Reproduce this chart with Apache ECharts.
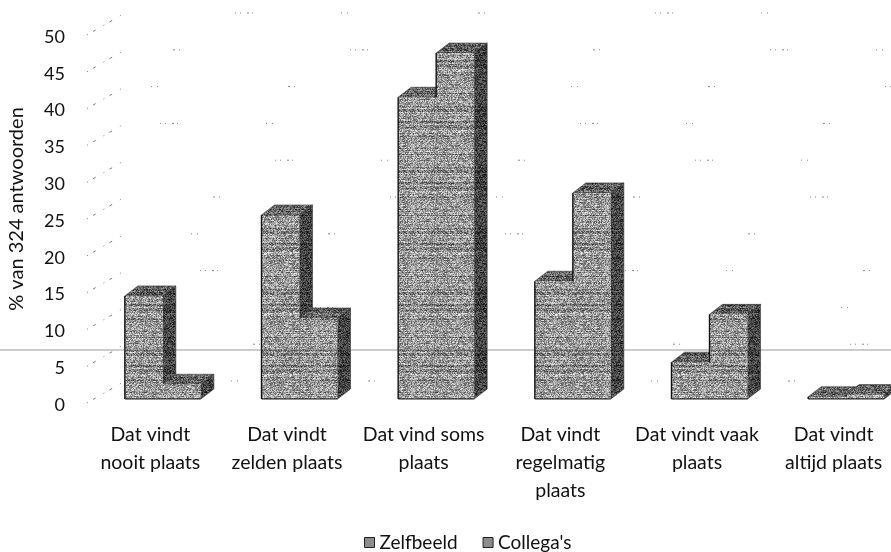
<!DOCTYPE html>
<html><head><meta charset="utf-8">
<style>html,body{margin:0;padding:0;background:#fff}#c{width:891px;height:552px}</style>
<script src="https://cdn.jsdelivr.net/npm/echarts@6/dist/echarts.min.js"></script>
</head><body><div id="c"></div>
<script>
const categories = ['Dat vindt\nnooit plaats','Dat vindt\nzelden plaats','Dat vind soms\nplaats','Dat vindt\nregelmatig\nplaats','Dat vindt vaak\nplaats','Dat vindt\naltijd plaats'];
const zelfbeeld = [14, 25, 41, 16, 5, 0.3];
const collegas = [2, 11, 47, 28, 11.5, 0.6];
const yTicks = [0,5,10,15,20,25,30,35,40,45,50];
const FONT = 'Lato';

function texture(base, spread, streakAmt){
  const c = document.createElement('canvas'); c.width = 97; c.height = 61;
  const x = c.getContext('2d');
  for (let j=0;j<61;j++) for (let i=0;i<97;i++){
    const h = Math.abs(Math.sin(i*12.9898+j*78.233)*43758.5453)%1;
    const streak = Math.abs(Math.sin(j*37.719)*9631.17)%1;
    let g = base + (h-0.5)*spread + (streak-0.5)*streakAmt;
    g = Math.max(0,Math.min(255,Math.round(g)));
    x.fillStyle = 'rgb('+g+','+g+','+g+')';
    x.fillRect(i,j,1,1);
  }
  return c;
}
const frontFill = {image: texture(150,130,70), repeat:'repeat'};
const topFill = {image: texture(100,110,50), repeat:'repeat'};
const sideFill = {image: texture(68,90,30), repeat:'repeat'};

function bar3d(seriesIndex){
  return function(params, api){
    const i = api.value(0), v = api.value(1);
    const c0 = api.coord([i,0]), c1 = api.coord([i,v]);
    const w = 38, dx = 13, dy = 10, shiftX = 12.5, shiftY = -6;
    const xl = c0[0]+shiftX-w+seriesIndex*w, xr = xl+w;
    const yb = c0[1]+shiftY, yt = c1[1]+shiftY;
    const thin = {stroke:'#333', lineWidth:0.6};
    // the left edge of the second bar shows only where it rises above the first
    const leftFrom = seriesIndex===0 ? yb : Math.min(yb, api.coord([i, zelfbeeld[params.dataIndex]])[1]+shiftY);
    const kids = [
      {type:'polygon', shape:{points:[[xr,yb],[xr+dx,yb-dy],[xr+dx,yt-dy],[xr,yt]]}, style:Object.assign({fill:sideFill},thin)},
      {type:'polygon', shape:{points:[[xl,yt],[xl+dx,yt-dy],[xr+dx,yt-dy],[xr,yt]]}, style:Object.assign({fill:topFill},thin)},
      {type:'rect', shape:{x:xl,y:yt,width:w,height:yb-yt}, style:{fill:frontFill}},
      {type:'line', shape:{x1:xl,y1:yb,x2:xr,y2:yb}, style:{stroke:'#222',lineWidth:1.2}}
    ];
    if (leftFrom > yt) kids.push({type:'line', shape:{x1:xl,y1:leftFrom,x2:xl,y2:yt}, style:{stroke:'#111',lineWidth:1.4}});
    return {type:'group', children:kids};
  };
}
function wallDiag(params, api){
  const p = api.coord([0, api.value(0)]);
  const x = params.coordSys.x+5, y = p[1]-2;
  return {type:'line', shape:{x1:x,y1:y,x2:x+38,y2:y-22}, style:{stroke:'#777',lineWidth:1,lineDash:[1,6,3,9]}};
}
function wallLine(params, api){
  const p = api.coord([0, api.value(0)]);
  const cs = params.coordSys;
  return {type:'line', shape:{x1:cs.x,y1:p[1],x2:cs.x+cs.width,y2:p[1]},
    style:{stroke:'#888',lineWidth:1,lineDash:[1,4,1,6,2,3,1,88,1,5,1,130,2,4,1,170],lineDashOffset:api.value(0)*23}};
}
const chart = echarts.init(document.getElementById('c'), null, {renderer:'canvas'});
chart.setOption({
  animation:false, backgroundColor:'#fff',
  legend:{top:528, left:359, itemWidth:10, itemHeight:10, itemGap:25,
    textStyle:{fontFamily:FONT,fontSize:19,color:'#111'},
    data:[{name:'Zelfbeeld',icon:'rect',itemStyle:{color:'#8c8c8c',borderColor:'#222',borderWidth:1}},
          {name:"Collega's",icon:'rect',itemStyle:{color:'#8c8c8c',borderColor:'#222',borderWidth:1}}]},
  grid:[{left:82,width:820,top:37,height:368,outerBoundsMode:'none'},{left:125,right:0,top:13,bottom:171,outerBoundsMode:'none'}],
  xAxis:[
    {type:'category',gridIndex:0,data:categories,axisLine:{show:false},axisTick:{show:false},
     axisLabel:{interval:0,margin:16,fontFamily:FONT,fontSize:19.5,color:'#111',lineHeight:28}},
    {type:'value',gridIndex:1,min:0,max:1,show:false}
  ],
  yAxis:[
    {type:'value',gridIndex:0,min:0,max:50,interval:5,splitLine:{show:false},axisLine:{show:false},axisTick:{show:false},
     axisLabel:{fontFamily:FONT,fontSize:18,color:'#111',margin:17},
     name:'% van 324 antwoorden',nameLocation:'middle',nameGap:55,nameRotate:90,
     nameTextStyle:{fontFamily:FONT,fontSize:20,color:'#111',padding:[0,0,0,24]}},
    {type:'value',gridIndex:1,min:0,max:50,interval:5,axisLine:{show:false},axisTick:{show:false},axisLabel:{show:false},splitLine:{show:false}}
  ],
  series:[
    {type:'custom',name:'wallDiag',xAxisIndex:0,yAxisIndex:0,silent:true,data:yTicks.map(v=>[v]),encode:{y:0},renderItem:wallDiag,clip:false},
    {type:'custom',name:'wallLine',xAxisIndex:1,yAxisIndex:1,silent:true,data:yTicks.map(v=>[v]),encode:{y:0},renderItem:wallLine,clip:false},
    {type:'custom',name:'Zelfbeeld',xAxisIndex:0,yAxisIndex:0,data:zelfbeeld.map((v,i)=>[i,v]),encode:{x:0,y:1},renderItem:bar3d(0),clip:false,itemStyle:{color:'#8c8c8c'}},
    {type:'custom',name:"Collega's",xAxisIndex:0,yAxisIndex:0,data:collegas.map((v,i)=>[i,v]),encode:{x:0,y:1},renderItem:bar3d(1),clip:false,itemStyle:{color:'#8c8c8c'}}
  ],
  graphic:[{type:'line',z:100,shape:{x1:0,y1:350,x2:891,y2:350},style:{stroke:'rgba(70,70,70,0.55)',lineWidth:1}}]
});
</script></body></html>
